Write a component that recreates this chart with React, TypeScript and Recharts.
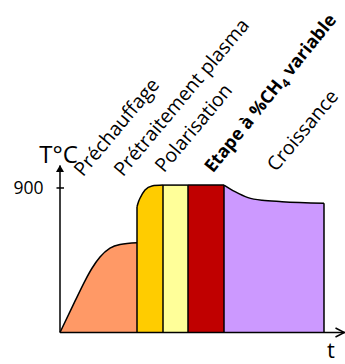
import React from "react";
import {
  ComposedChart,
  Area,
  XAxis,
  YAxis,
  ReferenceLine,
  ReferenceDot,
} from "recharts";

// time (t) / temperature (°C), one pair of arrays per phase
const preT = [0, 15, 25, 32, 40, 50, 60, 77];
const preV = [0, 195, 322, 400, 470, 525, 548, 559];
const plasmaT = [77, 78.5, 80, 85, 92, 103];
const plasmaV = [783, 815, 836, 888, 913, 918];
const polT = [103, 128];
const polV = [918, 918];
const ch4T = [128, 164];
const ch4V = [918, 918];
const croisT = [164, 175, 188, 202, 222, 264];
const croisV = [918, 877, 840, 823, 815, 805];

const phaseKeys = ["pre", "plasma", "pol", "ch4", "crois"];
const phaseColors = ["#FF9966", "#FFCC00", "#FFFF99", "#C00000", "#CC99FF"];
const phaseT = [preT, plasmaT, polT, ch4T, croisT];
const phaseV = [preV, plasmaV, polV, ch4V, croisV];

// label anchors (start of the rotated text) in data units
const labelT = [23, 63, 104, 153, 216];
const labelV = [966, 966, 990, 990, 997];

const yTicks = [900];
const FONT = "'Open Sans', sans-serif";
const txt = { fontFamily: FONT };

// one table with a column per phase
const table: any[] = [];
phaseT.forEach((ts, i) => {
  ts.forEach((t, j) => {
    let row = table.find((r) => r.t === t);
    if (!row) {
      row = { t };
      table.push(row);
    }
    row[phaseKeys[i]] = phaseV[i][j];
  });
});
table.sort((a, b) => a.t - b.t);

// vertical borders between phases
const edges: { t: number; v: number }[] = [];
phaseT.forEach((ts, i) => {
  [0, ts.length - 1].forEach((j) => {
    const t = ts[j];
    const v = phaseV[i][j];
    if (v <= 0) return;
    const e = edges.find((x) => x.t === t);
    if (e) e.v = Math.max(e.v, v);
    else edges.push({ t, v });
  });
});

const PhaseLabel = (props: any) => {
  const { cx, cy, idx } = props;
  if (idx === 3) {
    return (
      <text
        x={cx}
        y={cy}
        transform={`rotate(-51, ${cx}, ${cy})`}
        style={txt}
        fontSize={18}
        fontWeight="bold"
        fill="#000"
      >
        <tspan>Etape à %CH</tspan>
        <tspan fontSize={12} dy={4}>4</tspan>
        <tspan dy={-4}> variable</tspan>
      </text>
    );
  }
  const names = ["Préchauffage", "Prétraitement plasma", "Polarisation", "", "Croissance"];
  return (
    <text x={cx} y={cy} transform={`rotate(-50, ${cx}, ${cy})`} style={txt} fontSize={19.5} fill="#000">
      {names[idx]}
    </text>
  );
};

// tick mark crossing the y axis plus its number
const YTickMark = (props: any) => {
  const { cx, cy, value } = props;
  return (
    <g>
      <line x1={cx - 3.5} y1={cy} x2={cx + 4} y2={cy} stroke="#000" strokeWidth={1.5} />
      <text x={cx - 16.5} y={cy} dy="0.36em" textAnchor="end" style={txt} fontSize={17.5} fill="#000">
        {value}
      </text>
    </g>
  );
};

const YArrow = (props: any) => {
  const { cx, cy } = props;
  return (
    <g>
      <path d={`M${cx},${cy - 0.5} L${cx - 4},${cy + 6.5} L${cx + 4},${cy + 6.5} Z`} fill="#000" />
      <text x={cx - 1.5} y={cy - 2.5} textAnchor="middle" style={txt} fontSize={24} fill="#000">
        T°C
      </text>
    </g>
  );
};

const XArrow = (props: any) => {
  const { cx, cy } = props;
  return (
    <g>
      <path
        d={`M${cx - 9.5},${cy - 4.5} L${cx - 0.5},${cy} L${cx - 9.5},${cy + 4.5}`}
        fill="none"
        stroke="#000"
        strokeWidth={1.5}
      />
      <text x={cx - 14} y={cy + 25.5} textAnchor="middle" style={txt} fontSize={22} fill="#000">
        t
      </text>
    </g>
  );
};

export default function App() {
  return (
    <div style={{ position: "absolute", left: 0, top: 0, fontFamily: FONT }}>
      <ComposedChart
        width={345}
        height={364}
        data={table}
        margin={{ top: 165.5, right: 0, bottom: 0, left: 0 }}
      >
        <XAxis
          dataKey="t"
          type="number"
          domain={[0, 285]}
          tick={false}
          tickLine={false}
          axisLine={{ stroke: "#000", strokeWidth: 1.5 }}
          height={31.5}
        />
        <YAxis
          type="number"
          domain={[0, 1040]}
          ticks={yTicks}
          width={60}
          tickLine={false}
          tick={false}
          axisLine={{ stroke: "#000", strokeWidth: 1.5 }}
        />
        {phaseKeys.map((k, i) => (
          <Area
            key={k}
            dataKey={k}
            type="monotone"
            fill={phaseColors[i]}
            fillOpacity={1}
            stroke="#000"
            strokeWidth={1.5}
            isAnimationActive={false}
            dot={false}
            activeDot={false}
          />
        ))}
        {edges.map((e) => (
          <ReferenceLine
            key={e.t}
            segment={[
              { x: e.t, y: 0 },
              { x: e.t, y: e.v },
            ]}
            stroke="#000"
            strokeWidth={1.5}
            ifOverflow="visible"
          />
        ))}
        {yTicks.map((v) => (
          <ReferenceDot
            key={v}
            x={0}
            y={v}
            ifOverflow="visible"
            shape={(p: any) => <YTickMark {...p} value={v} />}
          />
        ))}
        {labelT.map((t, i) => (
          <ReferenceDot
            key={i}
            x={t}
            y={labelV[i]}
            ifOverflow="visible"
            shape={(p: any) => <PhaseLabel {...p} idx={i} />}
          />
        ))}
        <ReferenceDot x={0} y={1040} ifOverflow="visible" shape={(p: any) => <YArrow {...p} />} />
        <ReferenceDot x={285} y={0} ifOverflow="visible" shape={(p: any) => <XArrow {...p} />} />
      </ComposedChart>
    </div>
  );
}
